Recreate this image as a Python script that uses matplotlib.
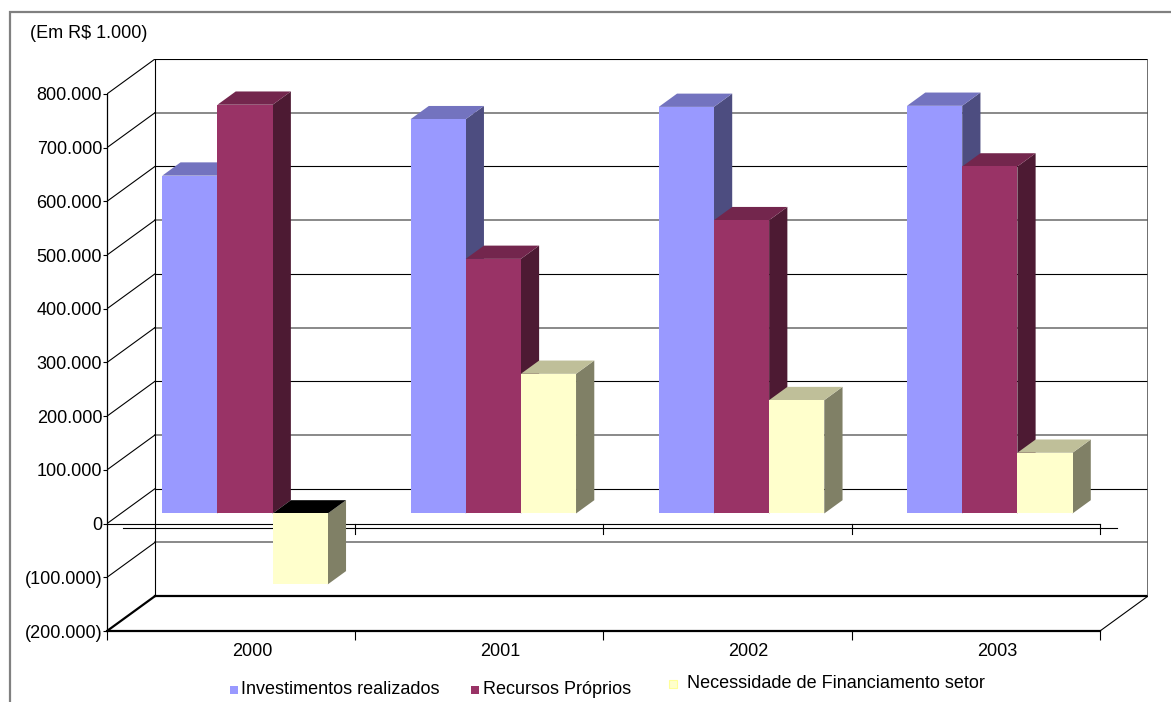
import numpy as np
import matplotlib
matplotlib.use("Agg")
import matplotlib.pyplot as plt
from matplotlib.patches import Polygon, Rectangle

plt.rcParams['font.family'] = ['Liberation Sans', 'DejaVu Sans']

# values in R$ 1.000
years = ['2000', '2001', '2002', '2003']
investimentos = [629000, 734000, 757000, 759000]
recursos = [761000, 474000, 546000, 646000]
necessidade = [-132000, 260000, 211000, 113000]
series_names = ['Investimentos realizados', 'Recursos Próprios',
                'Necessidade de Financiamento setor']
series_colors = ['#9999FF', '#993366', '#FFFFCC']
y_ticks = list(range(-200000, 800001, 100000))

W, H = 1171, 702
N = len(years)
YMIN, YMAX = -200000, 800000
DX, DY = 0.1934, 65000          # oblique offset of the back wall
D0, D1 = 0.29, 0.67              # depth span of the columns
BAR_W = 1 / 4.5                  # 150% gap width


def proj(x, v, d):
    return (x + d * DX, v + d * DY)


def shade(hexcol, f):
    r, g, b = matplotlib.colors.to_rgb(hexcol)
    return (r * f, g * f, b * f)


def fmt(v):
    s = f"{abs(v):,.0f}".replace(',', '.')
    return f"({s})" if v < 0 else s


fig = plt.figure(figsize=(W / 100, H / 100), dpi=100)

# overlay in pixel coordinates for the frame, unit label and legend
ov = fig.add_axes([0, 0, 1, 1], zorder=-1)
ov.set_xlim(0, W)
ov.set_ylim(H, 0)
ov.axis('off')
ov.plot([9.5, 9.5, W], [H, 11.5, 11.5], color='#808080', lw=1.6,
        solid_joinstyle='miter')
ov.text(30, 33, '(Em R$ 1.000)', fontsize=13, ha='left', va='center')

ax = fig.add_axes([107 / W, (H - 631) / H, (1148 - 107) / W, (631 - 59) / H])
ax.set_facecolor('none')
ax.set_xlim(0, N + DX)
ax.set_ylim(YMIN, YMAX + DY)

# back wall gridlines and side wall diagonals
for v in y_ticks:
    even = (v // 100000) % 2 == 0
    col, lw = ('black', 0.8) if even else ('#808080', 1.3)
    if v == YMIN:
        col, lw = 'black', 1.6
    x0, y0 = proj(0, v, 1)
    x1, y1 = proj(N, v, 1)
    ax.plot([x0, x1], [y0, y1], color=col, lw=lw, zorder=1)
    fx, fy = proj(0, v, 0)
    ax.plot([fx, x0], [fy, y0], color='black',
            lw=1.6 if v == YMIN else 0.8, zorder=1)

# back wall edges and floor right edge
bx, by0 = proj(0, YMIN, 1)
_, by1 = proj(0, YMAX, 1)
ax.plot([bx, bx], [by0, by1], color='black', lw=0.8, zorder=1)
rx, _ = proj(N, YMIN, 1)
ax.plot([rx, rx], [by0, by1], color='#555555', lw=1.2, zorder=1)
fx, fy = proj(N, YMIN, 0)
ax.plot([fx, rx], [fy, by0], color='black', lw=0.8, zorder=1)

# zero line across the chart with category ticks
ax.plot([0, N], [0, 0], color='black', lw=0.8, zorder=2)
ax.plot([0.065, N + 0.068], [-7500, -7500], color='black', lw=0.8, zorder=2)
for k in range(1, N + 1):
    ax.plot([k, k], [0, -18500], color='black', lw=0.8, zorder=2)

# 3D columns
series = [investimentos, recursos, necessidade]
z = 3
for i in range(N):
    for j, vals in enumerate(series):
        val = vals[i]
        base = series_colors[j]
        xl = i + 0.5 - 1.5 * BAR_W + j * BAR_W
        xr = xl + BAR_W
        lo, hi = min(val, 0), max(val, 0)
        front = [proj(xl, lo, D0), proj(xr, lo, D0),
                 proj(xr, hi, D0), proj(xl, hi, D0)]
        top = [proj(xl, hi, D0), proj(xr, hi, D0),
               proj(xr, hi, D1), proj(xl, hi, D1)]
        side = [proj(xr, lo, D0), proj(xr, hi, D0),
                proj(xr, hi, D1), proj(xr, lo, D1)]
        top_col = 'black' if val < 0 else shade(base, 0.75)
        ax.add_patch(Polygon(side, closed=True, fc=shade(base, 0.5),
                             ec='none', zorder=z))
        ax.add_patch(Polygon(top, closed=True, fc=top_col,
                             ec='none', zorder=z))
        ax.add_patch(Polygon(front, closed=True, fc=base,
                             ec='none', zorder=z))
        z += 1

# axes, ticks and labels
for s in ('top', 'right'):
    ax.spines[s].set_visible(False)
ax.spines['left'].set_bounds(YMIN, YMAX)
ax.spines['left'].set_linewidth(0.9)
ax.spines['bottom'].set_bounds(0, N)
ax.spines['bottom'].set_linewidth(1.6)
ax.set_yticks(y_ticks)
ax.set_yticklabels([fmt(v) for v in y_ticks])
ax.tick_params(axis='y', length=3, width=0.8, pad=0.5, labelsize=13)
ax.set_xticks(range(N + 1))
ax.set_xticklabels([])
ax.tick_params(axis='x', length=6.5, width=0.8, direction='out')

for i, yr in enumerate(years):
    ax.annotate(yr, xy=(i + 0.5 + 0.085, YMIN), xytext=(0, -14.5),
                textcoords='offset points', ha='center', va='center',
                fontsize=13, annotation_clip=False)

# legend
legend_items = [(230, 690, 241), (471, 690, 483), (669, 684, 687)]
for (sx, ty, tx), name, col in zip(legend_items, series_names, series_colors):
    ec = '#FFFF99' if col == '#FFFFCC' else 'none'
    ov.add_patch(Rectangle((sx, ty - 4), 8, 8, fc=col, ec=ec, lw=0.8))
    ov.text(tx, ty, name, fontsize=13, ha='left', va='center')

fig.savefig('out.png', dpi=100)
